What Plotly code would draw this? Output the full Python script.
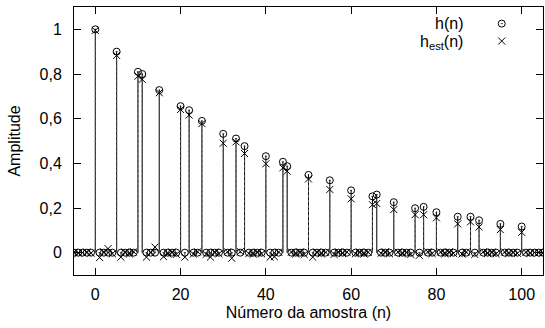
import plotly.graph_objects as go

# sample index range
n_values = list(range(-5, 106))

# positions where h(n) is non-zero, and its values there
peak_n = [0, 5, 10, 11, 15, 20, 22, 25, 30, 33, 35, 40, 44, 45, 50, 55, 60, 65, 66,
          70, 75, 77, 80, 85, 88, 90, 95, 100]
h_peak = [1.0, 0.90, 0.81, 0.80, 0.728, 0.656, 0.638, 0.59, 0.532, 0.511, 0.477, 0.432,
          0.407, 0.387, 0.348, 0.324, 0.279, 0.252, 0.26, 0.226, 0.199, 0.205, 0.181,
          0.161, 0.161, 0.145, 0.129, 0.117]

# estimated response h_est(n) for n = -5 .. 105
h_est = [0.002, -0.003, 0.001, 0.003, -0.002,
         0.995, -0.022, 0.004, 0.018, -0.005,
         0.883, -0.02, 0.003, -0.006, 0.004,
         0.79, 0.776, -0.02, 0.002, 0.025,
         0.716, -0.018, -0.006, 0.003, -0.008,
         0.641, -0.02, 0.616, -0.006, 0.004,
         0.578, -0.008, -0.02, 0.003, -0.005,
         0.49, 0.004, -0.025, 0.496, 0.005,
         0.444, -0.004, -0.007, 0.003, -0.005,
         0.398, -0.02, -0.018, 0.003, 0.38,
         0.365, 0.003, -0.006, 0.004, -0.008,
         0.33, -0.02, 0.003, -0.005, 0.002,
         0.283, -0.008, 0.004, -0.004, 0.003,
         0.241, -0.005, 0.003, -0.006, 0.002,
         0.215, 0.22, -0.003, 0.004, -0.005,
         0.193, 0.003, -0.005, 0.002, -0.008,
         0.17, -0.012, 0.17, 0.004, -0.004,
         0.156, 0.003, -0.005, 0.004, -0.003,
         0.129, -0.006, 0.003, 0.138, -0.008,
         0.115, 0.004, -0.004, 0.003, -0.005,
         0.103, 0.003, -0.004, 0.002, -0.003,
         0.091, 0.002, -0.003, 0.001, 0.002, -0.002]

x_ticks = [0, 20, 40, 60, 80, 100]
y_ticks = [0, 0.2, 0.4, 0.6, 0.8, 1]
y_tick_labels = ["0", "0,2", "0,4", "0,6", "0,8", "1"]

peak_map = dict(zip(peak_n, h_peak))
h_full = [peak_map.get(n, 0.0) for n in n_values]

# stems built from the data
def stems(xs, ys):
    sx, sy = [], []
    for x, y in zip(xs, ys):
        sx += [x, x, None]
        sy += [0, y, None]
    return sx, sy

hx, hy = stems(n_values, h_full)
ex, ey = stems(n_values, h_est)

FONT = "Liberation Sans, Arial, Helvetica, sans-serif"
FS = 16

fig = go.Figure()
fig.add_trace(go.Scatter(x=hx, y=hy, mode="lines",
                         line=dict(color="black", width=1), showlegend=False,
                         hoverinfo="skip"))
fig.add_trace(go.Scatter(x=ex, y=ey, mode="lines",
                         line=dict(color="#555555", width=1, dash="3px,2px"),
                         showlegend=False, hoverinfo="skip"))
fig.add_trace(go.Scatter(x=n_values, y=h_full, mode="markers", name="h(n)",
                         marker=dict(symbol="circle-open-dot", size=7, color="black",
                                     line=dict(width=1, color="black")),
                         showlegend=False))
fig.add_trace(go.Scatter(x=n_values, y=h_est, mode="markers", name="h_est(n)",
                         marker=dict(symbol="x-thin-open", size=7, color="black",
                                     line=dict(width=1, color="black")),
                         showlegend=False))

# legend samples on an overlay axis (gnuplot-style key: text left, symbol right)
fig.add_trace(go.Scatter(x=[0.912], y=[0.938], xaxis="x2", yaxis="y2", mode="markers",
                         marker=dict(symbol="circle-open-dot", size=7, color="black",
                                     line=dict(width=1, color="black")),
                         showlegend=False, hoverinfo="skip"))
fig.add_trace(go.Scatter(x=[0.912], y=[0.873], xaxis="x2", yaxis="y2", mode="markers",
                         marker=dict(symbol="x-thin-open", size=7, color="black",
                                     line=dict(width=1, color="black")),
                         showlegend=False, hoverinfo="skip"))

fig.add_annotation(x=0.834, y=0.940, xref="paper", yref="paper", text="h(n)",
                   showarrow=False, xanchor="right", yanchor="middle",
                   font=dict(family=FONT, size=FS, color="black"))
fig.add_annotation(x=0.834, y=0.866, xref="paper", yref="paper",
                   text="h<sub>est</sub>(n)",
                   showarrow=False, xanchor="right", yanchor="middle",
                   font=dict(family=FONT, size=FS, color="black"))

axis_common = dict(showline=True, linecolor="black", linewidth=1, mirror="allticks",
                   ticks="inside", ticklen=7, tickcolor="black", tickwidth=1,
                   showgrid=False, zeroline=False,
                   tickfont=dict(family=FONT, size=FS, color="black"))

fig.update_layout(
    width=545, height=328,
    margin=dict(l=74, r=2, t=7, b=53),
    paper_bgcolor="white", plot_bgcolor="white",
    xaxis=dict(range=[-5, 105], tickvals=x_ticks,
               title=dict(text="Número da amostra (n)", standoff=4,
                          font=dict(family=FONT, size=FS, color="black")),
               ticklabelstandoff=5, **axis_common),
    yaxis=dict(range=[-0.1, 1.1], tickvals=y_ticks, ticktext=y_tick_labels,
               title=dict(text="Amplitude", standoff=14,
                          font=dict(family=FONT, size=FS, color="black")),
               ticklabelstandoff=8, **axis_common),
    xaxis2=dict(overlaying="x", range=[0, 1], visible=False),
    yaxis2=dict(overlaying="y", range=[0, 1], visible=False),
    showlegend=False,
)

fig.write_html("out.html")
